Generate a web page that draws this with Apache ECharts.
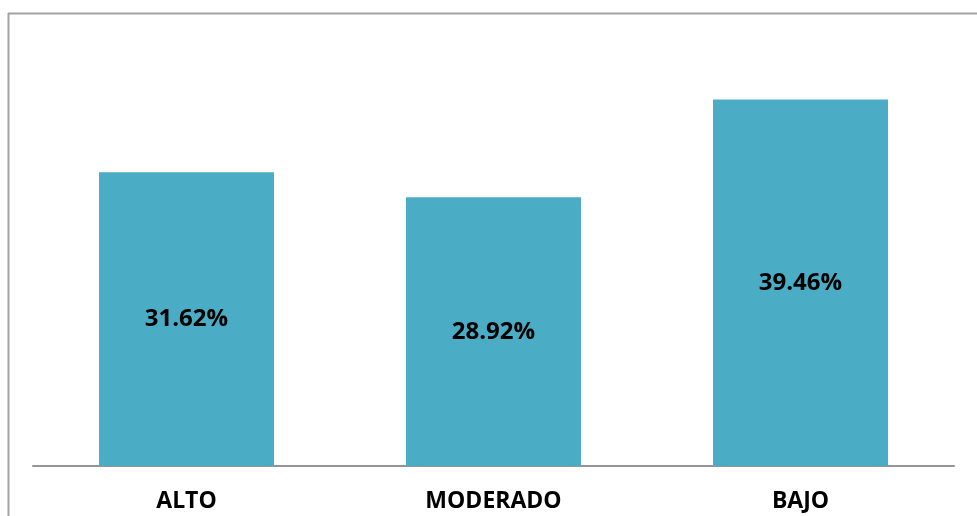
<!DOCTYPE html>
<html>
<head>
<meta charset="utf-8">
<script src="https://cdn.jsdelivr.net/npm/echarts@6/dist/echarts.min.js"></script>
<style>
html,body{margin:0;padding:0;background:#fff;}
#chart{width:977px;height:516px;}
</style>
</head>
<body>
<div id="chart"></div>
<script>
var categories = ['ALTO', 'MODERADO', 'BAJO'];
var values = [31.62, 28.92, 39.46];

var chart = echarts.init(document.getElementById('chart'));
chart.setOption({
  animation: false,
  backgroundColor: '#ffffff',
  grid: { left: 33, right: 23, top: 48, bottom: 50, containLabel: false },
  graphic: [
    { type: 'line', shape: { x1: 8.5, y1: 13, x2: 8.5, y2: 516 }, style: { stroke: '#a3a3a3', lineWidth: 2 } },
    { type: 'line', shape: { x1: 8, y1: 13.5, x2: 977, y2: 13.5 }, style: { stroke: '#a3a3a3', lineWidth: 2 } }
  ],
  xAxis: {
    type: 'category',
    data: categories,
    axisLine: { lineStyle: { color: '#959595', width: 2 } },
    axisTick: { show: false },
    axisLabel: {
      color: '#000', fontSize: 23, fontWeight: 'bold', fontFamily: '"Open Sans", sans-serif', margin: 24
    }
  },
  yAxis: {
    type: 'value', min: 0, max: 45,
    show: false,
    splitLine: { show: false }
  },
  series: [{
    type: 'bar',
    data: values,
    barWidth: 175,
    itemStyle: { color: '#4bacc6' },
    label: {
      show: true, position: 'inside',
      formatter: function (p) { return p.value.toFixed(2) + '%'; },
      color: '#000', fontSize: 24, fontWeight: 'bold', fontFamily: '"Open Sans", sans-serif'
    }
  }]
});
</script>
</body>
</html>
